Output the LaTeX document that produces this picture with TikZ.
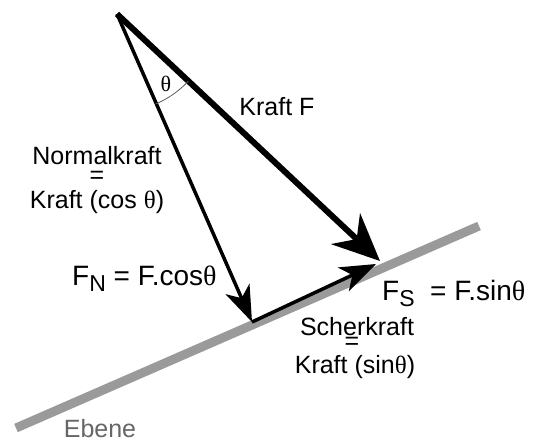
\documentclass[tikz,border=0pt]{standalone}
\usepackage{fontspec}
\setmainfont{Liberation Sans}
\newfontfamily\thfont{Liberation Serif}
\usetikzlibrary{arrows.meta,calc}
\newcommand{\thsym}{{\thfont θ}}
\definecolor{planegray}{HTML}{9A9A9A}
\definecolor{textgray}{HTML}{666666}
\begin{document}
\begin{tikzpicture}[x=1pt,y=-1pt,
  lbl/.style={font=\fontsize{25}{29}\selectfont, inner sep=0pt, align=center},
  eqsign/.style={lbl, text height=12pt, text depth=0pt, anchor=base},
  big/.style={font=\fontsize{28}{32}\selectfont, inner sep=0pt},
  bigtip/.style={-{Stealth[length=47pt,width=42pt,inset=15pt]}},
  smalltip/.style={-{Stealth[length=36pt,width=26pt,inset=10pt]}}]
\useasboundingbox (0,0) rectangle (534,442);
\coordinate (apex) at (117,14);
\coordinate (ftip) at (380,261);
\coordinate (foot) at (252,322);
\coordinate (stip) at (376,264);
\coordinate (pl) at (16,428);
\coordinate (pr) at (479,226);
\draw[line width=9pt, planegray] (pl) -- (pr);
\draw[line width=6pt, bigtip] (apex) -- (ftip);
\draw[line width=3.5pt, smalltip] (apex) -- (foot);
\draw[line width=3.5pt, smalltip] (foot) -- (stip);
\draw[line width=0.8pt, gray!70!black] ($(apex)+(43.2:98)$) arc[start angle=43.2, end angle=66.8, radius=98];
\node[font=\fontsize{22}{24}\selectfont, inner sep=0pt] (th) at (166,84) {\thsym};
\node[lbl, text depth=0pt, anchor=base] (nk) at (97,164) {Normalkraft};
\node[eqsign] (eq1) at (97,183) {=};
\node[lbl, text height=17pt, anchor=base] (kc) at (97,208) {Kraft (cos \thsym)};
\node[lbl] (kf) at (277,107) {Kraft F};
\node[big, anchor=base west] (fn) at (72,285) {F\raisebox{-6pt}{\fontsize{23}{24}\selectfont N} = F.cos\thsym};
\node[big, anchor=base west] (fs) at (382,300) {F\raisebox{-6pt}{\fontsize{23}{24}\selectfont S}\ \ = F.sin\thsym};
\node[lbl, text depth=0pt, anchor=base] (sk) at (357,335) {Scherkraft};
\node[eqsign] (eq2) at (352,349) {=};
\node[lbl, text height=17pt, anchor=base] (ks) at (355,373) {Kraft (sin\thsym)};
\node[lbl, textgray, text depth=0pt, anchor=base] (eb) at (100,437) {Ebene};
\end{tikzpicture}
\end{document}
